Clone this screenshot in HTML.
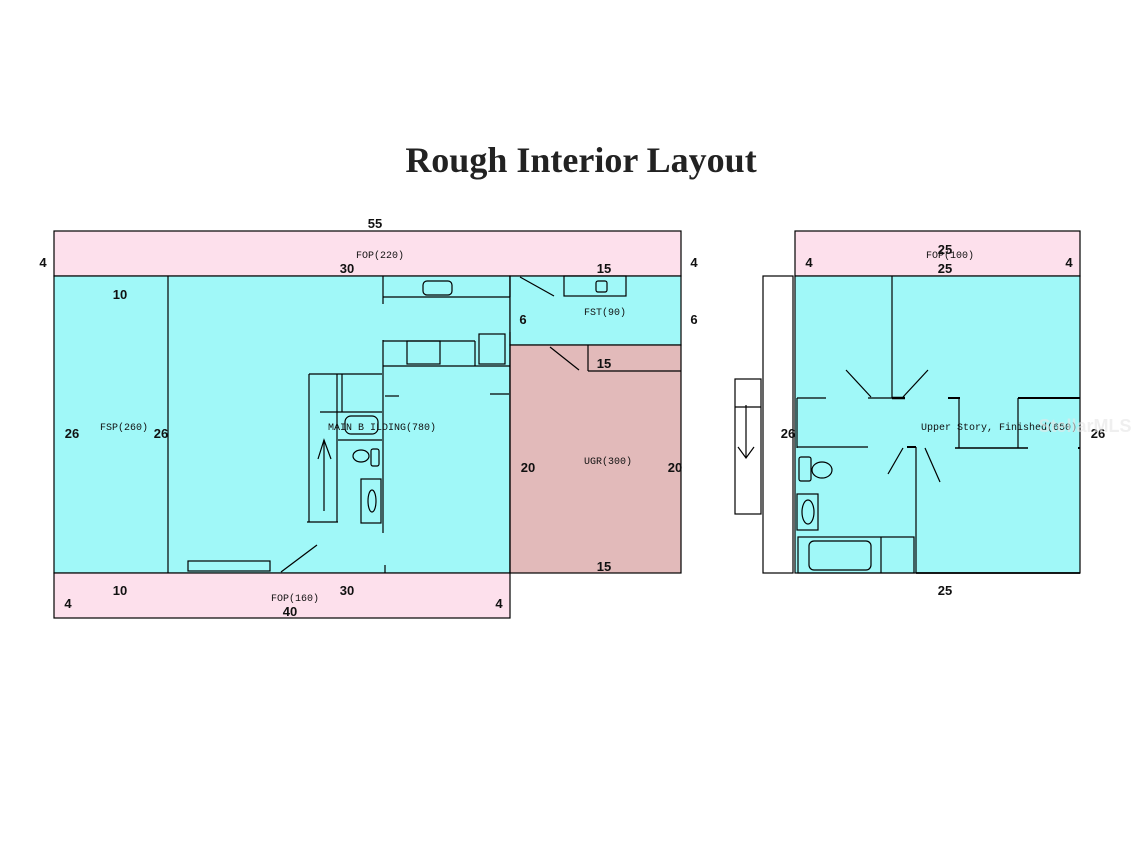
<!DOCTYPE html>
<html><head><meta charset="utf-8"><style>
html,body{margin:0;padding:0;background:#fff;width:1134px;height:850px;overflow:hidden}
svg{display:block}
.d{font-family:"Liberation Sans",sans-serif;font-size:13px;font-weight:bold;fill:#111}
.l{font-family:"Liberation Mono",monospace;font-size:10px;fill:#111}
</style></head><body>
<svg width="1134" height="850" viewBox="0 0 1134 850" xmlns="http://www.w3.org/2000/svg">
<text x="581" y="172" text-anchor="middle" font-family="Liberation Serif,serif" font-weight="bold" font-size="36" fill="#222">Rough Interior Layout</text>
<g stroke="#000" stroke-width="1.2" fill="none">
<rect x="54" y="231" width="627" height="45" fill="#fde0ec"/>
<rect x="54" y="276" width="456" height="297" fill="#a0f8f8"/>
<rect x="510" y="276" width="171" height="69" fill="#a0f8f8"/>
<rect x="510" y="345" width="171" height="228" fill="#e2baba"/>
<rect x="54" y="573" width="456" height="45" fill="#fde0ec"/>
<line x1="168" y1="276" x2="168" y2="573"/>
<line x1="383" y1="276" x2="383" y2="304"/>
<line x1="383" y1="297" x2="510" y2="297"/>
<rect x="423" y="281" width="29" height="14" rx="4"/>
<line x1="510" y1="276" x2="510" y2="297"/>
<line x1="520" y1="277" x2="554" y2="296"/>
<rect x="564" y="276" width="62" height="20"/>
<rect x="596" y="281" width="11" height="11" rx="2"/>
<line x1="510" y1="332" x2="510" y2="573"/>
<line x1="383" y1="340" x2="383" y2="533"/>
<line x1="383" y1="341" x2="475" y2="341"/>
<line x1="383" y1="366" x2="510" y2="366"/>
<rect x="407" y="341" width="33" height="23"/>
<line x1="475" y1="341" x2="475" y2="366"/>
<rect x="479" y="334" width="26" height="30"/>
<line x1="385" y1="396" x2="399" y2="396"/>
<line x1="490" y1="394" x2="509" y2="394"/>
<line x1="550" y1="347" x2="579" y2="370"/>
<line x1="588" y1="345" x2="588" y2="371"/>
<line x1="588" y1="371" x2="681" y2="371"/>
<line x1="309" y1="374" x2="309" y2="522"/>
<line x1="337" y1="374" x2="337" y2="522"/>
<line x1="309" y1="374" x2="382" y2="374"/>
<line x1="342" y1="374" x2="342" y2="412"/>
<line x1="320" y1="412" x2="382" y2="412"/>
<line x1="338" y1="440" x2="382" y2="440"/>
<rect x="345" y="416" width="33" height="18" rx="6"/>
<ellipse cx="361" cy="456" rx="8" ry="6"/>
<rect x="371" y="449" width="8" height="17" rx="2"/>
<rect x="361" y="479" width="20" height="44"/>
<ellipse cx="372" cy="501" rx="4" ry="11"/>
<line x1="307" y1="522" x2="338" y2="522"/>
<line x1="324" y1="511" x2="324" y2="440"/>
<polyline points="318,459 324,440 331,459"/>
<line x1="281" y1="572" x2="317" y2="545"/>
<line x1="385" y1="565" x2="385" y2="573"/>
<rect x="188" y="561" width="82" height="10" fill="#a0f8f8"/>
<rect x="795" y="231" width="285" height="45" fill="#fde0ec"/>
<rect x="795" y="276" width="285" height="297" fill="#a0f8f8"/>
<rect x="763" y="276" width="30" height="297" fill="#fff"/>
<rect x="735" y="379" width="26" height="135" fill="#fff"/>
<line x1="746" y1="405" x2="746" y2="458"/>
<line x1="735" y1="407" x2="761" y2="407"/>
<polyline points="738,447 746,458 754,447"/>
<line x1="892" y1="276" x2="892" y2="398"/>
<line x1="797" y1="398" x2="826" y2="398"/>
<line x1="868" y1="398" x2="905" y2="398"/>
<line x1="892" y1="398" x2="905" y2="398" stroke-width="2.5"/>
<line x1="948" y1="398" x2="960" y2="398" stroke-width="2"/>
<line x1="1018" y1="398" x2="1080" y2="398" stroke-width="2"/>
<line x1="959" y1="398" x2="959" y2="448"/>
<line x1="1018" y1="398" x2="1018" y2="448"/>
<line x1="797" y1="398" x2="797" y2="448"/>
<line x1="797" y1="447" x2="868" y2="447"/>
<line x1="907" y1="447" x2="916" y2="447" stroke-width="2"/>
<line x1="955" y1="448" x2="1028" y2="448" stroke-width="1.5"/>
<line x1="1078" y1="448" x2="1080" y2="448" stroke-width="2"/>
<line x1="916" y1="447" x2="916" y2="573"/>
<line x1="916" y1="573" x2="1080" y2="573" stroke-width="1.8"/>
<line x1="846" y1="370" x2="871" y2="397"/>
<line x1="903" y1="397" x2="928" y2="370"/>
<line x1="888" y1="474" x2="903" y2="448"/>
<line x1="925" y1="448" x2="940" y2="482"/>
<rect x="799" y="457" width="12" height="24" rx="2"/>
<ellipse cx="822" cy="470" rx="10" ry="8"/>
<rect x="797" y="494" width="21" height="36"/>
<ellipse cx="808" cy="512" rx="6" ry="12"/>
<rect x="798" y="537" width="116" height="36"/>
<rect x="809" y="541" width="62" height="29" rx="5"/>
<line x1="881" y1="537" x2="881" y2="573"/>
</g>
<g class="d">
<text x="375" y="228" text-anchor="middle">55</text>
<text x="43" y="267" text-anchor="middle">4</text>
<text x="694" y="267" text-anchor="middle">4</text>
<text x="347" y="273" text-anchor="middle">30</text>
<text x="604" y="273" text-anchor="middle">15</text>
<text x="120" y="299" text-anchor="middle">10</text>
<text x="523" y="324" text-anchor="middle">6</text>
<text x="694" y="324" text-anchor="middle">6</text>
<text x="604" y="368" text-anchor="middle">15</text>
<text x="72" y="438" text-anchor="middle">26</text>
<text x="161" y="438" text-anchor="middle">26</text>
<text x="528" y="472" text-anchor="middle">20</text>
<text x="675" y="472" text-anchor="middle">20</text>
<text x="604" y="571" text-anchor="middle">15</text>
<text x="120" y="595" text-anchor="middle">10</text>
<text x="347" y="595" text-anchor="middle">30</text>
<text x="68" y="608" text-anchor="middle">4</text>
<text x="499" y="608" text-anchor="middle">4</text>
<text x="290" y="616" text-anchor="middle">40</text>
<text x="945" y="254" text-anchor="middle">25</text>
<text x="945" y="273" text-anchor="middle">25</text>
<text x="809" y="267" text-anchor="middle">4</text>
<text x="1069" y="267" text-anchor="middle">4</text>
<text x="788" y="438" text-anchor="middle">26</text>
<text x="1098" y="438" text-anchor="middle">26</text>
<text x="945" y="595" text-anchor="middle">25</text>
</g>
<g class="l">
<text x="380" y="258" text-anchor="middle">FOP(220)</text>
<text x="605" y="315" text-anchor="middle">FST(90)</text>
<text x="124" y="430" text-anchor="middle">FSP(260)</text>
<text x="382" y="430" text-anchor="middle">MAIN B ILDING(780)</text>
<text x="608" y="464" text-anchor="middle">UGR(300)</text>
<text x="295" y="601" text-anchor="middle">FOP(160)</text>
<text x="950" y="258" text-anchor="middle">FOP(100)</text>
<text x="999" y="430" text-anchor="middle">Upper Story, Finished(650)</text>
</g>
<text x="1085" y="432" text-anchor="middle" font-family="Liberation Sans,sans-serif" font-size="18" font-weight="bold" fill="#e6e6e6" opacity="0.6">StellarMLS</text>
</svg>
</body></html>
